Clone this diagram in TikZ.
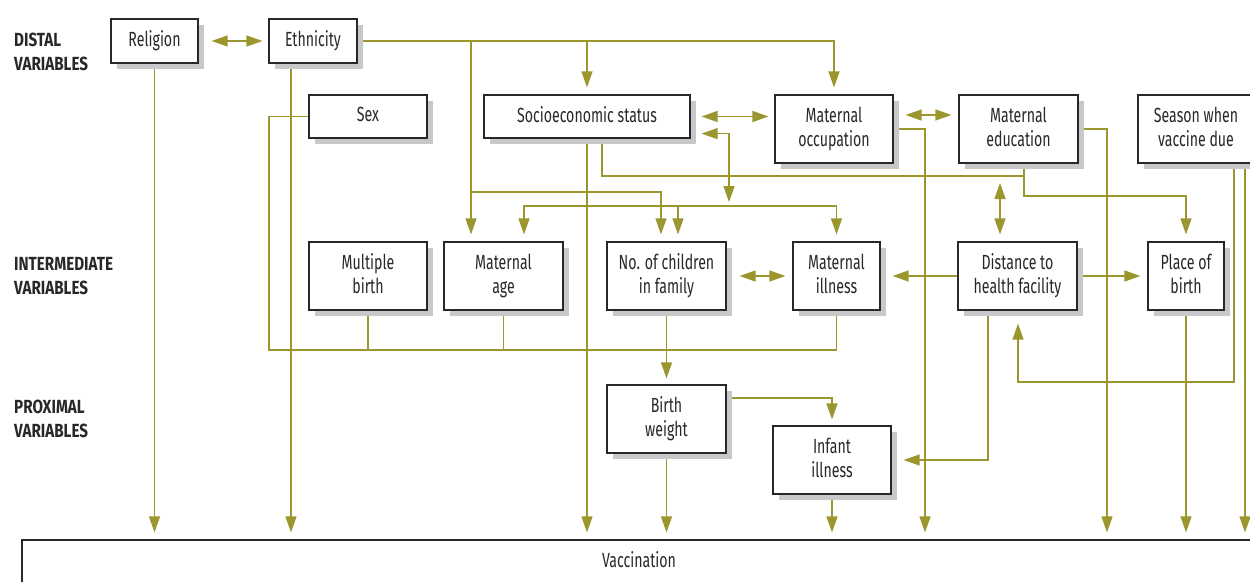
\documentclass[tikz,border=0pt]{standalone}
\usepackage{fontspec}
\setmainfont{Fira Sans}[FakeStretch=0.69]
\newfontfamily\grpfont{Fira Sans}[FakeStretch=0.8]
\usetikzlibrary{arrows.meta,calc,shadows}
\definecolor{olive}{RGB}{155,150,45}
\definecolor{boxc}{RGB}{40,40,40}
\definecolor{shadowc}{RGB}{200,200,202}
\pgfdeclarelayer{bg}
\pgfsetlayers{bg,main}
\tikzset{
  box/.style={draw=boxc, line width=1.2pt, fill=white, align=center, inner sep=2pt,
    font=\fontsize{20.5}{24}\selectfont, text=boxc,
    execute at begin node={\vphantom{Mg}}, execute at end node={\vphantom{Mg}},
    drop shadow={shadow xshift=6pt, shadow yshift=-6pt, fill=shadowc, opacity=1}},
  grp/.style={align=left, anchor=west, inner sep=0pt, font=\grpfont\bfseries\fontsize{19}{24}\selectfont, text=boxc},
  ln/.style={draw=olive, line width=1.3pt},
  arr/.style={ln, -{Triangle[length=16pt,width=11pt]}},
  dbl/.style={ln, {Triangle[length=16pt,width=11pt]}-{Triangle[length=16pt,width=11pt]}}
}
\begin{document}
\begin{tikzpicture}[x=1pt,y=-1pt]
\useasboundingbox (0,0) rectangle (1250,581);
% group labels
\node[grp] (gd) at (14,52) {DISTAL\\VARIABLES};
\node[grp] (gi) at (14,276) {INTERMEDIATE\\VARIABLES};
\node[grp] (gp) at (14,419) {PROXIMAL\\VARIABLES};
% boxes
\node[box, minimum width=87pt, minimum height=44pt] (rel) at (154.5,41) {Religion};
\node[box, minimum width=88pt, minimum height=44pt] (eth) at (313,41) {Ethnicity};
\node[box, minimum width=118pt, minimum height=43pt] (sex) at (368,116.5) {Sex};
\node[box, minimum width=206pt, minimum height=43pt] (ses) at (587,116.5) {Socioeconomic status};
\node[box, minimum width=118pt, minimum height=68pt] (occ) at (834,129) {Maternal\\occupation};
\node[box, minimum width=119pt, minimum height=68pt] (edu) at (1018.5,129) {Maternal\\education};
\node[box, minimum width=116pt, minimum height=68pt] (sea) at (1196,129) {Season when\\vaccine due};
\node[box, minimum width=118pt, minimum height=68pt] (mb) at (368,276) {Multiple\\birth};
\node[box, minimum width=119pt, minimum height=68pt] (mage) at (503.5,276) {Maternal\\age};
\node[box, minimum width=119pt, minimum height=68pt] (noc) at (666.5,276) {No. of children\\in family};
\node[box, minimum width=87pt, minimum height=68pt] (mill) at (836.5,276) {Maternal\\illness};
\node[box, minimum width=119pt, minimum height=68pt] (dist) at (1017.5,276) {Distance to\\health facility};
\node[box, minimum width=76pt, minimum height=68pt] (pob) at (1186,276) {Place of\\birth};
\node[box, minimum width=119pt, minimum height=68pt] (bw) at (666.5,419) {Birth\\weight};
\node[box, minimum width=118pt, minimum height=68pt] (inf) at (832,460) {Infant\\illness};
\node[draw=boxc, line width=1.2pt, fill=white, minimum width=1234pt, minimum height=44pt,
      font=\fontsize{20.5}{24}\selectfont, text=boxc] (vac) at (639,562) {\raisebox{2pt}[\height][\depth]{Vaccination}};
\begin{pgfonlayer}{bg}
\fill[white] (0,0) rectangle (1250,581);
% distal level
\draw[dbl, shorten <=13pt, shorten >=6pt] (rel.east) -- (eth.west);
\draw[arr, shorten >=7pt] (rel.south) -- (rel.south |- vac.north);
\draw[arr, shorten >=7pt] (291,0 |- eth.south) -- (291,0 |- vac.north);
\draw[arr, shorten >=7pt] (eth.east) -| (occ.north);
\draw[arr, shorten >=7pt] (ses.north |- eth.east) -- (ses.north);
\draw[arr, shorten >=7pt] (471,0 |- eth.east) -- (471,0 |- mage.north);
\draw[arr, shorten >=7pt] (471,192) -| (661,0 |- noc.north);
\draw[dbl, shorten <=11pt, shorten >=6pt] (ses.east) -- (ses.east -| occ.west);
\draw[dbl, shorten <=11pt] ($(ses.south east)+(0,-5)$) -| (729,202);
\draw[ln] (524,206) -- (836.5,206);
\draw[arr, shorten >=7pt] (678,206) -| (524,0 |- mage.north);
\draw[arr, shorten >=7pt] (678,206) -| (mill.north);
\draw[arr, shorten >=7pt] (678,206) -- (678,0 |- noc.north);
\draw[arr, shorten >=7pt] (ses.south) -- (ses.south |- vac.north);
\draw[ln] (602,0 |- ses.south) |- (1024,176);
\draw[arr, shorten >=7pt] (1024,0 |- edu.south) -- (1024,196) -| (pob.north);
\draw[dbl, shorten >=7pt] (1000,183) -- (1000,0 |- dist.north);
\draw[arr, shorten >=7pt] (occ.east) -| (925,0 |- vac.north);
\draw[dbl, shorten <=12pt, shorten >=7pt] (occ.east |- 0,115) -- (edu.west |- 0,115);
\draw[arr, shorten >=7pt] (edu.east) -| (1107,0 |- vac.north);
\draw[arr, shorten >=13pt] (1234,0 |- sea.south) |- (1018,382) -- (1018,0 |- dist.south);
\draw[arr, shorten >=7pt] (1245,0 |- sea.south) -- (1245,0 |- vac.north);
% intermediate level
\draw[arr, shorten >=12pt] (dist.west) -- (mill.east);
\draw[arr, shorten >=7pt] (dist.east) -- (pob.west);
\draw[arr, shorten >=12pt] (988,0 |- dist.south) |- (inf.east);
\draw[arr, shorten >=7pt] (pob.south) -- (pob.south |- vac.north);
\draw[dbl, shorten <=13pt, shorten >=7pt] (noc.east) -- (mill.west);
\draw[ln] (sex.west) -| (269,350) -| (mill.south);
\draw[ln] (mb.south) -- (mb.south |- 0,350);
\draw[ln] (mage.south) -- (mage.south |- 0,350);
\draw[arr, shorten >=6pt] (noc.south) -- (bw.north);
% proximal level
\draw[arr, shorten >=6pt] ($(bw.east)+(0,-21)$) -| (inf.north);
\draw[arr, shorten >=7pt] (bw.south) -- (bw.south |- vac.north);
\draw[arr, shorten >=7pt] (inf.south) -- (inf.south |- vac.north);
\end{pgfonlayer}
\end{tikzpicture}
\end{document}
